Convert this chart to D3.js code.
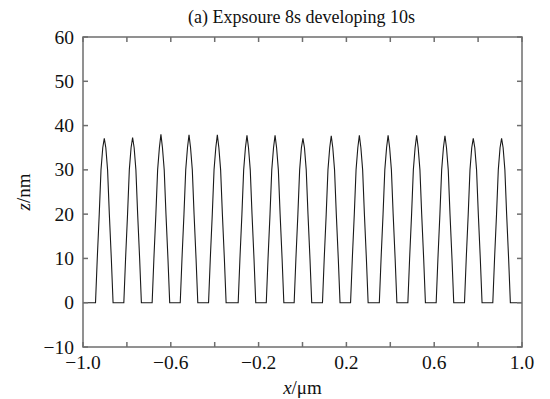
<!DOCTYPE html>
<html lang="en">
<head>
    <meta charset="UTF-8">
    <title>Expsoure 8s developing 10s</title>
    <script src="https://cdn.jsdelivr.net/npm/d3@7/dist/d3.min.js"></script>
    <style>
        body { margin: 0; background: #fff; }
        svg text { font-family: "Liberation Serif", "DejaVu Serif", serif; fill: #111; }
        .frame line, .frame rect { stroke: #6e6e6e; stroke-width: 1.5; }
    </style>
</head>
<body>
<script>
    // canvas size
    const width = 550;
    const height = 399;
    const margin = {top: 37, right: 28, bottom: 52, left: 83};

    // profile samples, one row per peak
    const xValues = [
        -1.0,
        -0.943, -0.935, -0.926, -0.918, -0.910, -0.903, -0.896, -0.888, -0.880, -0.871, -0.863,
        -0.814, -0.806, -0.797, -0.789, -0.781, -0.774, -0.767, -0.759, -0.751, -0.742, -0.734,
        -0.685, -0.677, -0.668, -0.660, -0.652, -0.645, -0.638, -0.630, -0.622, -0.613, -0.605,
        -0.557, -0.549, -0.540, -0.532, -0.524, -0.517, -0.510, -0.502, -0.494, -0.485, -0.477,
        -0.428, -0.420, -0.411, -0.403, -0.395, -0.388, -0.381, -0.373, -0.365, -0.356, -0.348,
        -0.293, -0.285, -0.276, -0.268, -0.260, -0.253, -0.246, -0.238, -0.230, -0.221, -0.213,
        -0.165, -0.157, -0.148, -0.140, -0.132, -0.125, -0.118, -0.110, -0.102, -0.093, -0.085,
        -0.038, -0.030, -0.021, -0.013, -0.005, 0.002, 0.009, 0.017, 0.025, 0.034, 0.042,
        0.091, 0.099, 0.108, 0.116, 0.124, 0.131, 0.138, 0.146, 0.154, 0.163, 0.171,
        0.219, 0.227, 0.236, 0.244, 0.252, 0.259, 0.266, 0.274, 0.282, 0.291, 0.299,
        0.350, 0.358, 0.367, 0.375, 0.383, 0.390, 0.397, 0.405, 0.413, 0.422, 0.430,
        0.480, 0.488, 0.497, 0.505, 0.513, 0.520, 0.527, 0.535, 0.543, 0.552, 0.560,
        0.609, 0.617, 0.626, 0.634, 0.642, 0.649, 0.656, 0.664, 0.672, 0.681, 0.689,
        0.738, 0.746, 0.755, 0.763, 0.771, 0.778, 0.785, 0.793, 0.801, 0.810, 0.818,
        0.867, 0.875, 0.884, 0.892, 0.900, 0.907, 0.914, 0.922, 0.930, 0.939, 0.947,
        1.0
    ];
    const zValues = [
        0,
        0, 10, 20, 30, 35, 37.1, 35, 30, 20, 10, 0,
        0, 10, 20, 30, 35, 37.3, 35, 30, 20, 10, 0,
        0, 10, 20, 30, 35, 38.0, 35, 30, 20, 10, 0,
        0, 10, 20, 30, 35, 37.9, 35, 30, 20, 10, 0,
        0, 10, 20, 30, 35, 37.9, 35, 30, 20, 10, 0,
        0, 10, 20, 30, 35, 37.8, 35, 30, 20, 10, 0,
        0, 10, 20, 30, 35, 37.8, 35, 30, 20, 10, 0,
        0, 10, 20, 30, 35, 37.1, 35, 30, 20, 10, 0,
        0, 10, 20, 30, 35, 37.7, 35, 30, 20, 10, 0,
        0, 10, 20, 30, 35, 37.8, 35, 30, 20, 10, 0,
        0, 10, 20, 30, 35, 37.8, 35, 30, 20, 10, 0,
        0, 10, 20, 30, 35, 37.8, 35, 30, 20, 10, 0,
        0, 10, 20, 30, 35, 37.7, 35, 30, 20, 10, 0,
        0, 10, 20, 30, 35, 37.1, 35, 30, 20, 10, 0,
        0, 10, 20, 30, 35, 37.1, 35, 30, 20, 10, 0,
        0
    ];

    // ticks
    const xTicks = [-1.0, -0.8, -0.6, -0.4, -0.2, 0, 0.2, 0.4, 0.6, 0.8, 1.0];
    const xTickLabels = ['\u22121.0', '', '\u22120.6', '', '\u22120.2', '', '0.2', '', '0.6', '', '1.0'];
    const yTicks = [-10, 0, 10, 20, 30, 40, 50, 60];
    const yTickLabels = ['\u221210', '0', '10', '20', '30', '40', '50', '60'];

    const titleText = '(a) Expsoure 8s developing 10s';

    let svg = d3.select('body')
        .append('svg')
        .attr('width', width)
        .attr('height', height);

    const x = d3.scaleLinear().domain([-1, 1]).range([margin.left, width - margin.right]);
    const y = d3.scaleLinear().domain([-10, 60]).range([height - margin.bottom, margin.top]);

    // data line
    const points = xValues.map((v, i) => [v, zValues[i]]);
    const line = d3.line().x(d => x(d[0])).y(d => y(d[1]));
    svg.append('path')
        .datum(points)
        .attr('d', line)
        .attr('fill', 'none')
        .attr('stroke', '#1a1a1a')
        .attr('stroke-width', 1.1);

    // frame with inward ticks on all four sides
    let frame = svg.append('g').attr('class', 'frame');
    frame.append('rect')
        .attr('x', x(-1)).attr('y', y(60))
        .attr('width', x(1) - x(-1)).attr('height', y(-10) - y(60))
        .attr('fill', 'none');

    const tickLen = 5;
    frame.selectAll('.xb').data(xTicks).enter().append('line')
        .attr('x1', d => x(d)).attr('x2', d => x(d))
        .attr('y1', y(-10)).attr('y2', y(-10) - tickLen);
    frame.selectAll('.xt').data(xTicks).enter().append('line')
        .attr('x1', d => x(d)).attr('x2', d => x(d))
        .attr('y1', y(60)).attr('y2', y(60) + tickLen);
    frame.selectAll('.yl').data(yTicks).enter().append('line')
        .attr('x1', x(-1)).attr('x2', x(-1) + tickLen)
        .attr('y1', d => y(d)).attr('y2', d => y(d));
    frame.selectAll('.yr').data(yTicks).enter().append('line')
        .attr('x1', x(1)).attr('x2', x(1) - tickLen)
        .attr('y1', d => y(d)).attr('y2', d => y(d));

    // tick labels
    svg.append('g').selectAll('text').data(xTicks).enter().append('text')
        .attr('x', d => x(d))
        .attr('y', y(-10) + 22)
        .attr('text-anchor', 'middle')
        .attr('font-size', '19.5px')
        .text((d, i) => xTickLabels[i]);

    svg.append('g').selectAll('text').data(yTicks).enter().append('text')
        .attr('x', x(-1) - 9)
        .attr('y', d => y(d) + 6.5)
        .attr('text-anchor', 'end')
        .attr('font-size', '19.5px')
        .text((d, i) => yTickLabels[i]);

    // axis titles
    let xt = svg.append('text')
        .attr('x', (x(-1) + x(1)) / 2)
        .attr('y', 394)
        .attr('text-anchor', 'middle')
        .attr('font-size', '19px');
    xt.append('tspan').attr('font-style', 'italic').text('x');
    xt.append('tspan').text('/\u03bcm');

    let yt = svg.append('text')
        .attr('transform', 'translate(30,' + ((y(-10) + y(60)) / 2) + ') rotate(-90)')
        .attr('text-anchor', 'middle')
        .attr('font-size', '19px');
    yt.append('tspan').attr('font-style', 'italic').text('z');
    yt.append('tspan').text('/nm');

    // title
    svg.append('text')
        .attr('x', (x(-1) + x(1)) / 2 - 1)
        .attr('y', 23)
        .attr('text-anchor', 'middle')
        .attr('font-size', '18px')
        .text(titleText);
</script>
</body>
</html>
